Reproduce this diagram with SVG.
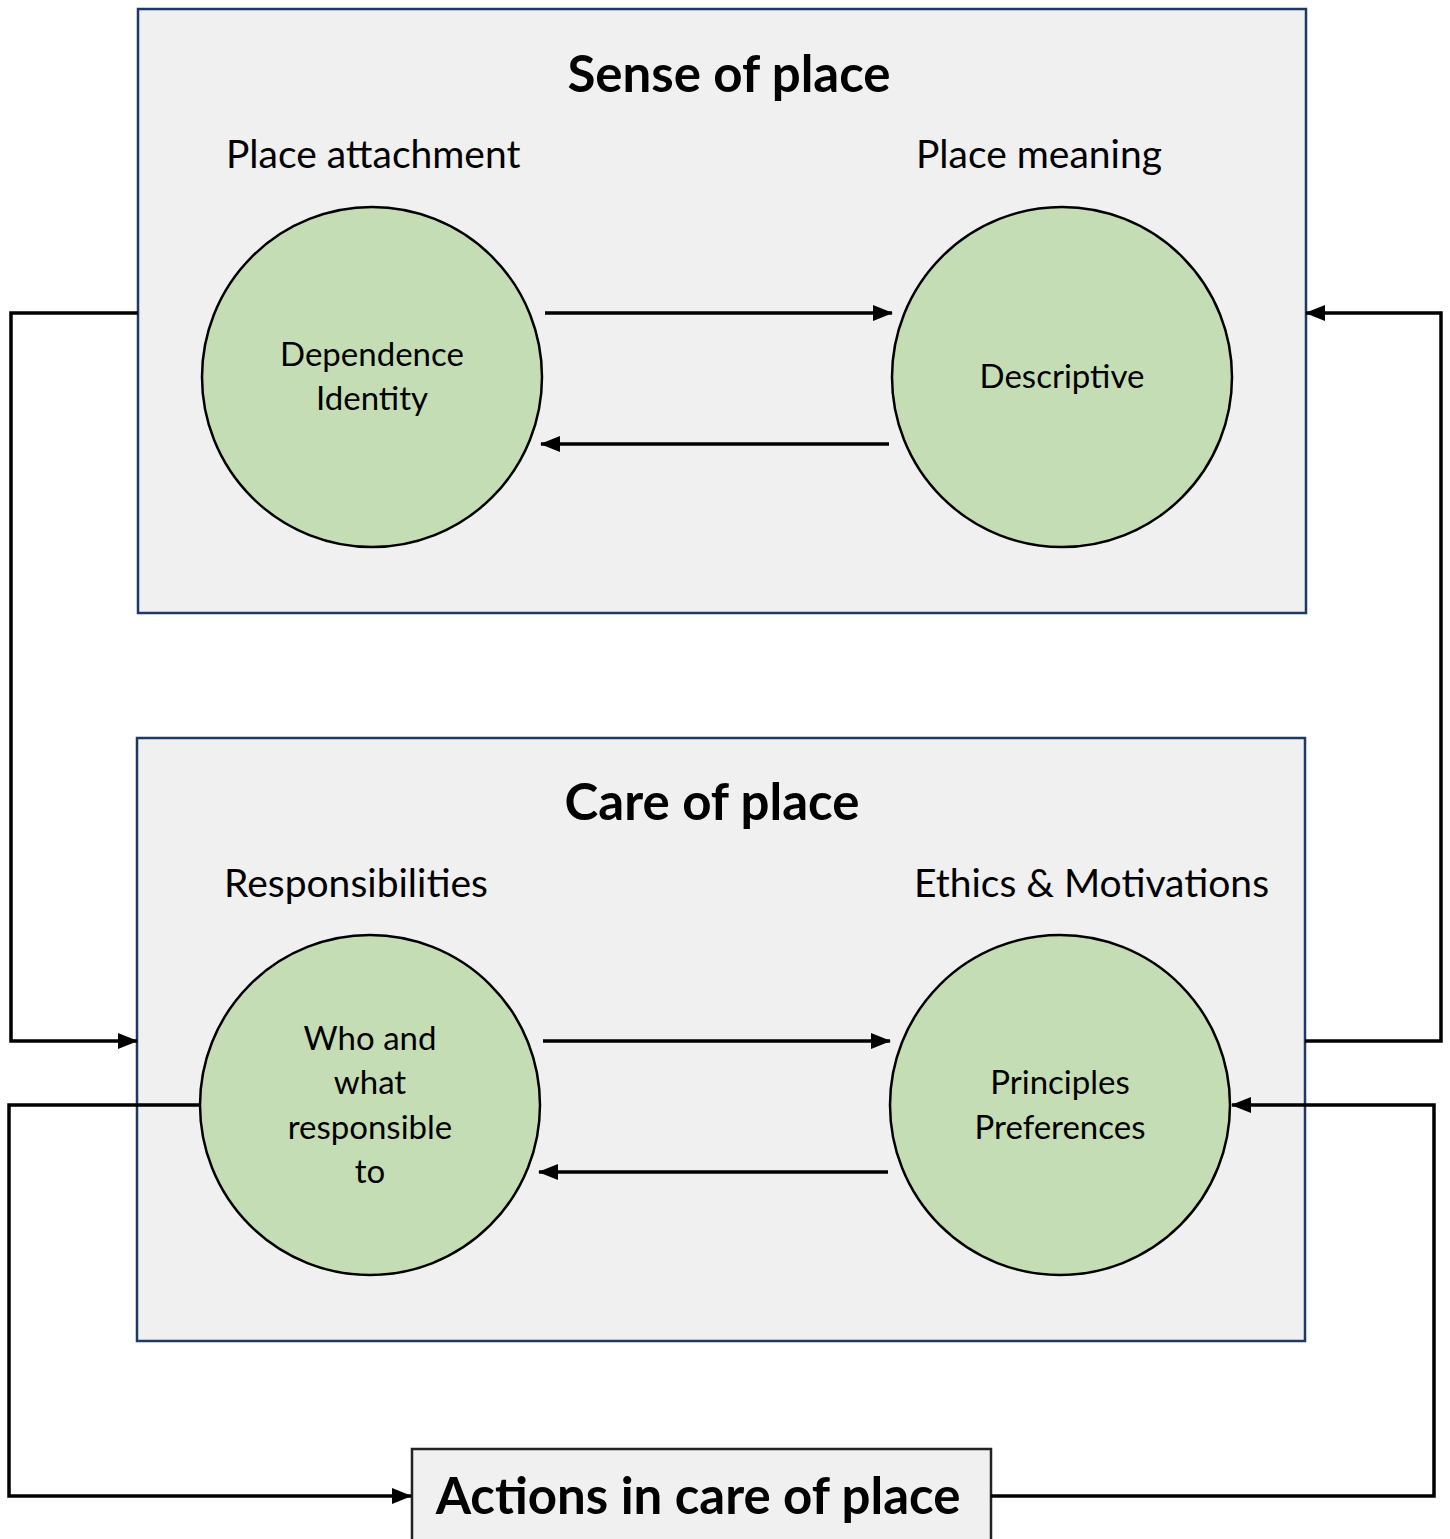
<svg xmlns="http://www.w3.org/2000/svg" width="1450" height="1539" viewBox="0 0 1450 1539">
<defs>
<marker id="ah" viewBox="0 0 20 16" refX="19" refY="8" markerWidth="20" markerHeight="16" markerUnits="userSpaceOnUse" orient="auto">
<path d="M0,0 L20,8 L0,16 z" fill="#000"/>
</marker>
<style>
.panel{fill:#F0F0F0;stroke:#1F3864;stroke-width:2.5}
.circ{fill:#C5DDB5;stroke:#000;stroke-width:2.5}
.title{font-family:Lato,"Open Sans",sans-serif;font-weight:bold;font-size:51px;fill:#000;text-anchor:middle}
.sub{font-family:Lato,"Open Sans",sans-serif;font-size:39px;fill:#000}
.in{font-family:Lato,"Open Sans",sans-serif;font-size:33px;fill:#000;text-anchor:middle}
.c{fill:none;stroke:#000;stroke-width:3.5}
</style>
</defs>
<rect width="1450" height="1539" fill="#fff"/>
<g id="sense-of-place">
<rect class="panel" x="138" y="9" width="1168" height="604"/>
<text class="title" x="729" y="92">Sense of place</text>
<text class="sub" x="226" y="168">Place attachment</text>
<text class="sub" x="916" y="168">Place meaning</text>
</g>
<g id="care-of-place">
<rect class="panel" x="137" y="738" width="1168" height="603"/>
<text class="title" x="712" y="820">Care of place</text>
<text class="sub" x="224" y="897">Responsibilities</text>
<text class="sub" x="914" y="897">Ethics &amp; Motivations</text>
</g>
<g id="place-attachment">
<circle class="circ" cx="372" cy="377" r="170"/>
<text class="in" x="372" y="366">Dependence</text>
<text class="in" x="372" y="410">Identity</text>
</g>
<g id="place-meaning">
<circle class="circ" cx="1062" cy="377" r="170"/>
<text class="in" x="1062" y="388">Descriptive</text>
</g>
<g id="responsibilities">
<circle class="circ" cx="370" cy="1105" r="170"/>
<text class="in" x="370" y="1050">Who and</text>
<text class="in" x="370" y="1094">what</text>
<text class="in" x="370" y="1139">responsible</text>
<text class="in" x="370" y="1183">to</text>
</g>
<g id="ethics">
<circle class="circ" cx="1060" cy="1105" r="170"/>
<text class="in" x="1060" y="1094">Principles</text>
<text class="in" x="1060" y="1139">Preferences</text>
</g>
<g id="actions">
<rect x="412" y="1449" width="579" height="95" fill="#F0F0F0" stroke="#222" stroke-width="2.5"/>
<text class="title" x="698" y="1514">Actions in care of place</text>
</g>
<g id="connectors">
<path class="c" d="M545,313 H892" marker-end="url(#ah)"/>
<path class="c" d="M889,444 H541" marker-end="url(#ah)"/>
<path class="c" d="M543,1041 H890" marker-end="url(#ah)"/>
<path class="c" d="M888,1172 H539" marker-end="url(#ah)"/>
<path class="c" d="M138,313 H11 V1041 H137" marker-end="url(#ah)"/>
<path class="c" d="M1305,1041 H1441 V313 H1306" marker-end="url(#ah)"/>
<path class="c" d="M199,1105 H9 V1496 H411" marker-end="url(#ah)"/>
<path class="c" d="M991,1496 H1434 V1105 H1232" marker-end="url(#ah)"/>
</g>
</svg>
